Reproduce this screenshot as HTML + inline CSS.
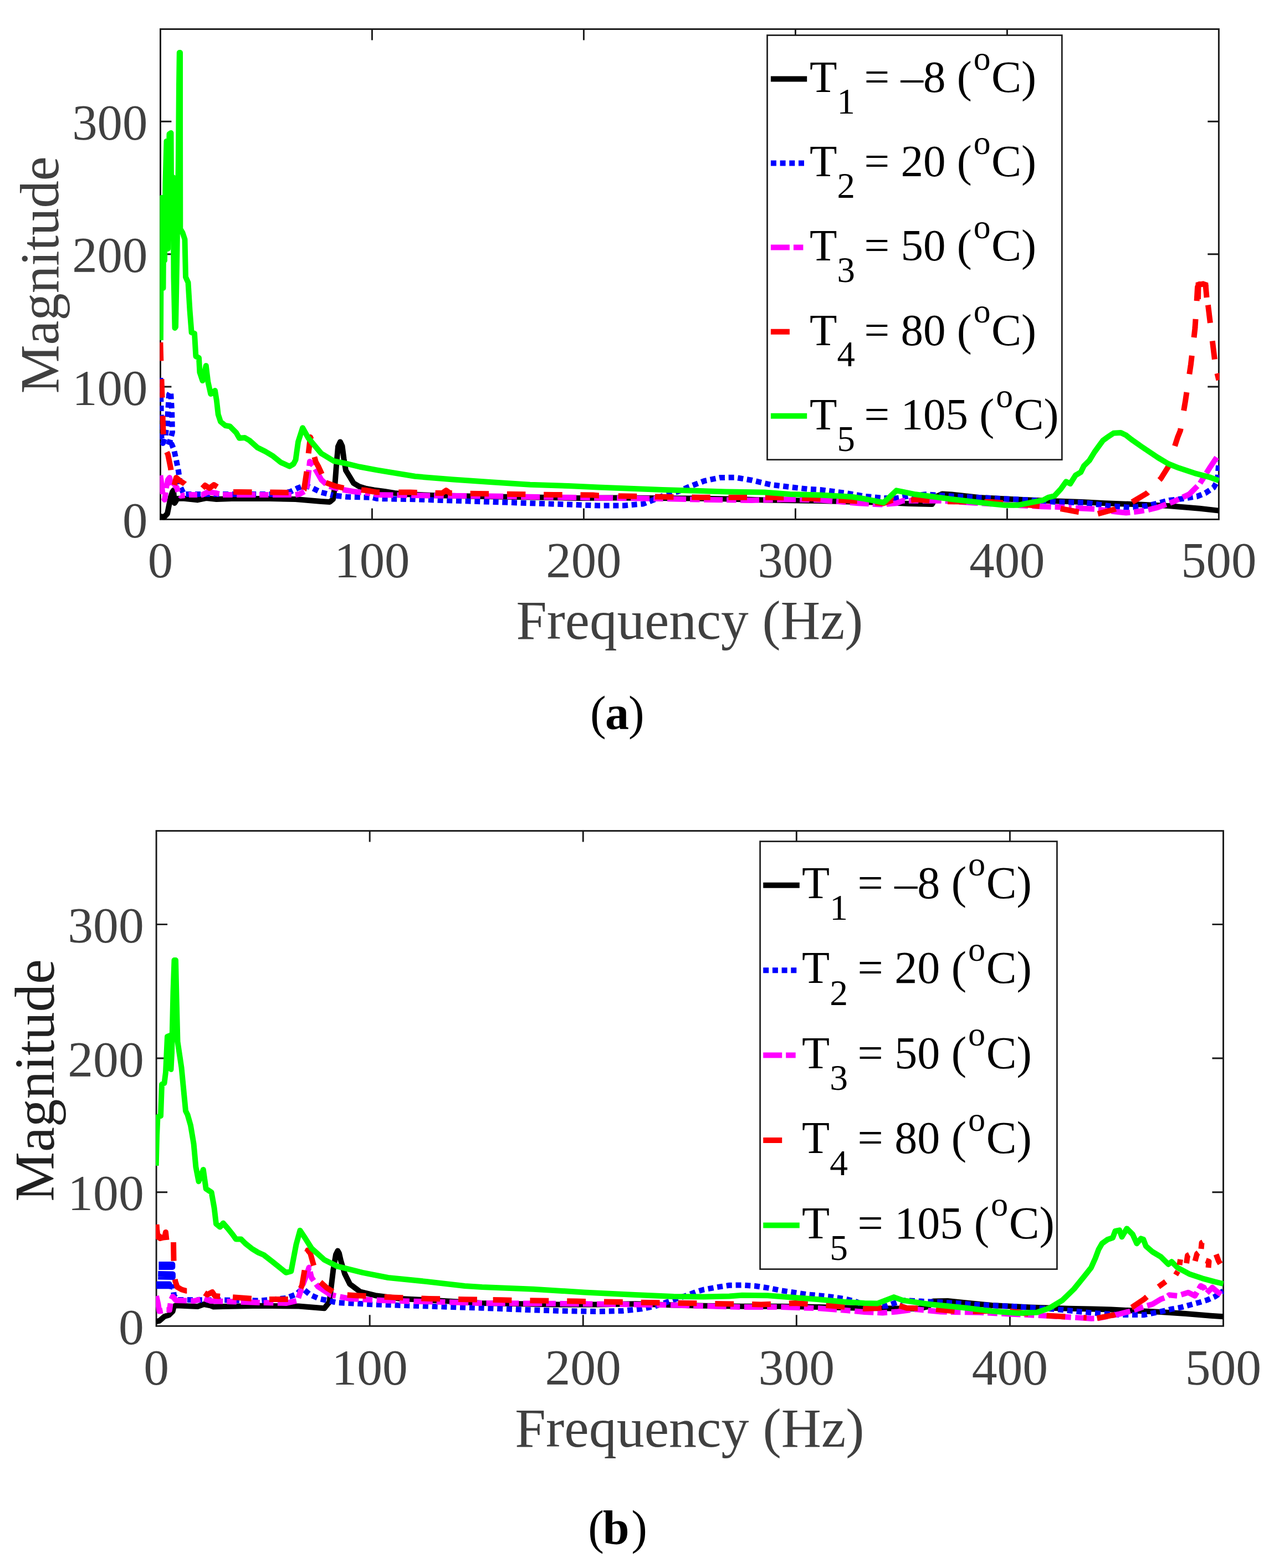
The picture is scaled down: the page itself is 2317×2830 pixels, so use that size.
<!DOCTYPE html><html><head><meta charset="utf-8"><title>Magnitude vs Frequency</title><style>html,body{margin:0;padding:0;background:#fff;}svg{display:block;}</style></head><body>
<svg width="2317" height="2830" viewBox="0 0 2317 2830">
<rect width="2317" height="2830" fill="#ffffff"/>
<path d="M289.4 698.0h20M2199.3 698.0h-20M289.4 458.7h20M2199.3 458.7h-20M289.4 219.3h20M2199.3 219.3h-20M671.4 937.4v-20M671.4 52.5v20M1053.4 937.4v-20M1053.4 52.5v20M1435.4 937.4v-20M1435.4 52.5v20M1817.4 937.4v-20M1817.4 52.5v20" stroke="#181818" stroke-width="2.9" fill="none"/>
<rect x="289.45" y="52.55" width="1909.90" height="884.85" fill="none" stroke="#181818" stroke-width="2.9"/>
<clipPath id="ca"><rect x="288.4" y="51.5" width="1911.9" height="886.9"/></clipPath>
<g clip-path="url(#ca)" fill="none" stroke-width="10" stroke-linejoin="round" stroke-linecap="butt">
<polyline points="289.4,932.0 296.0,933.5 302.0,927.0 305.0,912.0 308.0,897.0 311.0,888.0 313.0,885.0 315.0,908.0 317.0,905.0 320.0,900.0 330.0,899.5 356.0,902.4 372.0,899.0 390.6,901.0 418.0,900.0 487.0,900.0 533.0,901.0 579.5,905.0 595.0,906.0 601.0,901.0 604.0,880.0 607.0,840.0 610.0,806.0 614.0,797.5 617.5,805.0 620.5,828.0 624.0,849.0 632.0,862.0 638.0,872.0 648.0,878.0 661.0,882.0 675.0,884.5 694.0,887.0 712.0,890.0 731.0,892.0 780.0,894.0 846.0,895.5 913.0,896.7 980.0,897.8 1046.0,899.0 1112.0,898.5 1179.0,899.0 1246.0,899.4 1312.7,900.6 1379.5,902.4 1446.4,903.6 1480.0,904.0 1549.0,905.9 1600.0,907.0 1640.0,909.0 1682.0,910.0 1690.0,896.0 1700.0,891.5 1717.0,892.5 1767.0,898.0 1836.0,901.5 1894.0,904.0 1952.0,906.0 1994.0,908.3 2051.0,910.2 2108.0,913.0 2165.0,917.8 2199.4,921.6" stroke="#000000"/>
<polyline points="289.4,682.0 290.5,730.0 291.5,790.0 294.0,800.0 298.0,790.0 302.0,760.0 305.0,712.0 308.0,707.0 310.0,740.0 311.0,780.0 307.0,795.0 303.0,805.0 310.0,802.0 314.0,812.0 318.0,830.0 322.0,850.0 326.0,880.0 332.0,892.0 356.0,892.0 400.0,892.0 450.0,892.0 500.0,892.0 524.0,887.5 538.0,880.6 549.6,876.0 563.4,880.6 579.5,888.6 600.7,893.9" stroke="#0000ff" stroke-dasharray="10 6.68"/>
<polyline points="600.0,893.7 602.6,894.4 625.6,896.7 671.7,897.8 680.0,900.0 749.0,901.3 818.0,903.6 887.4,905.9 956.5,908.2 1025.6,910.5 1080.0,912.6 1126.0,912.4 1160.6,909.4 1179.0,902.4 1199.8,893.2 1222.9,887.5 1241.3,879.4 1271.2,867.9 1298.9,862.1 1326.5,861.7 1356.5,866.7 1391.0,874.8 1425.6,879.0 1460.2,882.9 1480.0,884.0 1526.0,889.8 1560.0,895.7 1595.2,899.0 1617.6,899.2 1641.3,895.0 1670.6,892.3 1721.3,895.7 1790.4,899.2 1859.5,902.6 1905.6,906.0 1960.0,907.5 2000.0,913.0 2040.0,916.0 2070.0,913.0 2090.0,908.0 2110.0,903.0 2135.0,900.0 2160.0,896.0 2175.0,890.0 2190.0,880.0 2197.0,868.0 2199.4,833.0" stroke="#0000ff" stroke-dasharray="10 6.68" stroke-dashoffset="10.0"/>
<polyline points="289.4,858.0 291.0,870.0 294.0,895.0 297.0,902.0 300.0,880.0 303.0,866.0 306.0,862.0 308.0,872.0 311.0,880.0 315.0,876.0 319.0,880.0 322.0,890.0 326.0,895.0 330.7,894.4" stroke="#ff00ff" stroke-dasharray="34 7 17.5 7.5"/>
<polyline points="330.0,894.5 342.0,893.0 355.7,893.0" stroke="#ff00ff" stroke-dasharray="34 7 17.5 7.5" stroke-dashoffset="30.3"/>
<polyline points="355.0,893.0 365.0,893.0 375.0,888.0 390.0,890.0 400.0,893.0 450.0,893.0 480.7,893.0" stroke="#ff00ff" stroke-dasharray="34 7 17.5 7.5" stroke-dashoffset="58.1"/>
<polyline points="480.0,893.0 533.0,893.0 540.0,892.0 553.0,885.0 556.0,860.0 559.0,833.0 565.0,840.0 572.0,852.0 580.0,866.0 592.0,877.0 614.0,883.0 637.0,887.0 660.7,889.7" stroke="#ff00ff" stroke-dasharray="34 7 17.5 7.5" stroke-dashoffset="54.0"/>
<polyline points="660.0,889.6 672.0,891.0 680.0,893.0 730.7,893.8" stroke="#ff00ff" stroke-dasharray="34 7 17.5 7.5" stroke-dashoffset="50.2"/>
<polyline points="730.0,893.8 772.0,894.4 887.0,895.5 956.0,896.7 1025.0,897.8 1080.0,898.5 1172.0,899.7 1287.0,902.0 1356.0,902.9 1425.0,901.3 1480.0,902.4 1549.0,908.2 1590.0,910.5 1618.0,908.2 1629.0,903.8 1698.0,903.8 1790.0,909.5 1880.0,914.2 1908.0,915.0 1930.7,916.4" stroke="#ff00ff" stroke-dasharray="34 7 17.5 7.5" stroke-dashoffset="53.8"/>
<polyline points="1930.0,916.4 1937.0,916.8 1975.0,918.7 1995.7,921.3" stroke="#ff00ff" stroke-dasharray="34 7 17.5 7.5" stroke-dashoffset="55.0"/>
<polyline points="1995.0,921.2 2013.0,923.5 2032.0,925.4 2051.0,923.5 2060.7,922.0" stroke="#ff00ff" stroke-dasharray="34 7 17.5 7.5" stroke-dashoffset="55.5"/>
<polyline points="2060.0,922.1 2070.0,920.6 2089.0,915.9 2117.6,905.4 2125.6,901.6" stroke="#ff00ff" stroke-dasharray="34 7 17.5 7.5" stroke-dashoffset="53.8"/>
<polyline points="2125.0,901.9 2146.0,892.1 2165.0,873.1 2170.4,864.5" stroke="#ff00ff" stroke-dasharray="34 7 17.5 7.5" stroke-dashoffset="55.9"/>
<polyline points="2170.0,865.1 2184.0,842.7 2199.4,819.8" stroke="#ff00ff" stroke-dasharray="34 7 17.5 7.5" stroke-dashoffset="52.9"/>
<polyline points="289.4,618.0 290.5,660.0 292.0,700.0 293.5,750.0 295.0,790.0 298.0,810.0 303.0,820.0 308.0,845.0 311.0,868.0 314.0,878.0 318.0,862.0 325.0,868.0 333.0,873.0 340.0,880.0 350.0,887.0 355.7,886.1" stroke="#ff0000" stroke-dasharray="33.5 32.8"/>
<polyline points="355.0,886.2 362.0,885.0 370.0,876.0 378.0,881.0 386.0,875.0 394.0,880.0 400.6,884.8" stroke="#ff0000" stroke-dasharray="33.5 32.8" stroke-dashoffset="54.1"/>
<polyline points="400.0,884.4 405.0,888.0 430.0,888.0 470.7,888.4" stroke="#ff0000" stroke-dasharray="33.5 32.8" stroke-dashoffset="44.1"/>
<polyline points="470.0,888.4 522.0,889.0 530.7,888.6" stroke="#ff0000" stroke-dasharray="33.5 32.8" stroke-dashoffset="49.0"/>
<polyline points="530.0,888.7 545.0,888.0 548.5,884.0 553.5,851.0 557.0,815.0 560.0,789.0 562.5,795.0 566.0,820.0 570.0,834.0 575.0,843.0 581.0,856.0 582.3,858.8" stroke="#ff0000" stroke-dasharray="33.5 32.8" stroke-dashoffset="46.0"/>
<polyline points="582.0,858.1 588.0,871.0 604.0,877.0 621.0,881.0 640.7,883.0" stroke="#ff0000" stroke-dasharray="33.5 32.8" stroke-dashoffset="51.8"/>
<polyline points="640.0,882.9 660.0,885.0 680.0,888.6 700.7,888.6" stroke="#ff0000" stroke-dasharray="33.5 32.8" stroke-dashoffset="54.3"/>
<polyline points="700.0,888.6 740.0,888.6 798.0,890.0 805.0,885.0 812.0,890.0 863.0,891.0 932.0,892.0 1000.0,893.0 1070.0,893.5 1080.0,894.4 1100.7,894.8" stroke="#ff0000" stroke-dasharray="33.5 32.8" stroke-dashoffset="47.1"/>
<polyline points="1100.0,894.8 1133.0,895.5 1200.0,896.7 1264.0,897.8 1333.0,897.8 1400.0,897.8 1467.0,900.1 1549.0,904.7 1594.6,908.4 1610.7,902.6 1622.0,906.0 1652.0,901.5 1698.0,905.0 1790.0,906.0 1859.5,911.8 1890.7,915.0" stroke="#ff0000" stroke-dasharray="33.5 32.8" stroke-dashoffset="50.6"/>
<polyline points="1890.0,914.9 1905.6,916.5 1946.0,924.0 1960.7,925.8" stroke="#ff0000" stroke-dasharray="33.5 32.8" stroke-dashoffset="42.3"/>
<polyline points="1960.0,925.7 1979.0,928.0 2013.0,918.7 2030.6,911.5" stroke="#ff0000" stroke-dasharray="33.5 32.8" stroke-dashoffset="45.0"/>
<polyline points="2030.0,911.7 2041.6,907.0 2070.0,890.0 2080.5,878.8" stroke="#ff0000" stroke-dasharray="33.5 32.8" stroke-dashoffset="52.1"/>
<polyline points="2080.0,879.4 2094.8,863.6 2108.0,842.7 2115.2,820.1" stroke="#ff0000" stroke-dasharray="33.5 32.8" stroke-dashoffset="48.3"/>
<polyline points="2115.0,820.8 2125.0,789.4 2130.0,777.0 2133.1,758.7" stroke="#ff0000" stroke-dasharray="33.5 32.8" stroke-dashoffset="49.8"/>
<polyline points="2133.0,759.4 2139.0,724.2 2143.1,696.6" stroke="#ff0000" stroke-dasharray="33.5 32.8" stroke-dashoffset="47.8"/>
<polyline points="2143.0,697.3 2148.9,657.7 2151.1,638.8" stroke="#ff0000" stroke-dasharray="33.5 32.8" stroke-dashoffset="43.9"/>
<polyline points="2151.0,639.5 2156.4,592.8 2156.5,590.6" stroke="#ff0000" stroke-dasharray="33.5 32.8" stroke-dashoffset="35.7"/>
<polyline points="2156.5,591.3 2159.5,545.0 2161.0,518.0 2164.0,513.0 2171.0,512.5 2174.6,514.5" stroke="#ff0000" stroke-dasharray="33.5 32.8" stroke-dashoffset="18.0"/>
<polyline points="2174.0,514.2 2175.5,515.0 2177.0,532.0 2180.0,551.0 2182.1,568.2" stroke="#ff0000" stroke-dasharray="33.5 32.8" stroke-dashoffset="28.8"/>
<polyline points="2182.0,567.5 2184.0,584.0 2188.0,617.0 2192.0,650.0 2194.1,661.7" stroke="#ff0000" stroke-dasharray="33.5 32.8" stroke-dashoffset="18.0"/>
<polyline points="2194.0,661.0 2196.0,672.0 2199.4,686.0" stroke="#ff0000" stroke-dasharray="33.5 32.8" stroke-dashoffset="53.2"/>
<polyline points="289.9,614.0 290.6,470.0 291.5,357.0 293.5,357.0 294.5,520.0 295.5,380.0 297.0,470.0 298.5,330.0 300.5,255.0 302.0,257.0 303.0,449.0 304.0,330.0 305.5,242.0 308.5,240.0 309.5,409.0 310.5,330.0 311.5,420.0 312.5,320.0 313.5,500.0 315.5,592.0 317.0,590.0 319.5,450.0 321.8,300.0 323.0,153.0 323.8,95.0 325.0,95.0 325.0,200.0 325.3,413.0 329.5,420.0 333.5,432.0 335.0,500.0 339.5,510.0 342.5,560.0 345.6,600.0 351.0,602.0 353.4,643.0 359.0,646.0 360.4,672.0 365.4,687.0 371.8,660.0 375.3,689.0 380.2,711.0 388.0,705.0 390.9,723.0 393.7,748.0 398.0,761.0 406.4,768.0 414.9,769.5 426.3,781.0 431.9,790.7 441.8,790.0 450.3,795.0 464.5,807.7 478.6,814.8 492.8,823.3 506.9,834.6 522.5,841.7 529.6,837.4 533.5,830.0 538.0,797.6 546.1,772.3 556.5,790.7 579.5,818.3 602.6,832.2 625.6,836.8 648.7,842.5 680.0,848.3 749.0,859.8 818.0,865.6 887.4,870.2 956.5,874.8 1025.6,877.1 1080.0,879.4 1195.2,884.0 1310.4,887.5 1379.5,888.6 1425.6,892.0 1480.0,893.5 1537.6,896.7 1560.0,900.3 1594.6,907.2 1617.6,885.3 1629.0,887.6 1652.0,892.3 1721.3,901.5 1790.4,909.5 1813.5,911.8 1836.5,911.8 1859.5,907.2 1882.6,902.6 1891.4,897.8 1902.8,895.0 1914.2,882.6 1923.7,869.3 1931.3,873.0 1940.8,857.9 1950.3,852.2 1956.0,840.8 1965.6,831.3 1975.0,816.0 1984.6,802.7 1990.3,795.1 1997.9,789.4 2009.3,781.8 2022.6,780.9 2032.1,785.6 2041.6,793.2 2060.6,806.5 2089.1,825.6 2108.1,837.0 2127.1,844.6 2155.7,854.1 2184.2,861.7 2199.4,867.4" stroke="#00ff00"/>
<polyline points="2162,540 2162.5,514 2171,512.5 2175.5,514 2177.5,537" stroke="#ff0000" stroke-linejoin="miter"/>
</g>
<g font-family='"Liberation Serif", "Times New Roman", serif' font-size="90.8" fill="#404040">
<text x="266.4" y="969.9" text-anchor="end">0</text>
<text x="266.4" y="730.5" text-anchor="end">100</text>
<text x="266.4" y="491.2" text-anchor="end">200</text>
<text x="266.4" y="251.8" text-anchor="end">300</text>
<text x="289.4" y="1041.7" text-anchor="middle">0</text>
<text x="671.4" y="1041.7" text-anchor="middle">100</text>
<text x="1053.4" y="1041.7" text-anchor="middle">200</text>
<text x="1435.4" y="1041.7" text-anchor="middle">300</text>
<text x="1817.4" y="1041.7" text-anchor="middle">400</text>
<text x="2199.3" y="1041.7" text-anchor="middle">500</text>
</g>
<text x="1244.5" y="1152.7" font-family='"Liberation Serif", "Times New Roman", serif' font-size="99.3" fill="#404040" text-anchor="middle">Frequency (Hz)</text>
<text transform="translate(104.9,496.3) rotate(-90)" font-family='"Liberation Serif", "Times New Roman", serif' font-size="98.8" fill="#404040" text-anchor="middle">Magnitude</text>
<rect x="1384.5" y="63.6" width="531.8" height="766.1" fill="#ffffff" stroke="#1c1c1c" stroke-width="2.7"/>
<line x1="1390.9" y1="142.4" x2="1456.2" y2="142.4" stroke="#000000" stroke-width="10"/>
<text x="1460.9" y="166.2" font-family='"Liberation Serif", "Times New Roman", serif' font-size="81" fill="#000">T<tspan font-size="64.8" dy="38.9">1</tspan><tspan x="1559.5" dy="-38.9">= –8 (</tspan><tspan font-size="61.6" dy="-40.1" dx="3">o</tspan><tspan dy="40.1" dx="1.5">C)</tspan></text>
<line x1="1390.9" y1="294.5" x2="1456.2" y2="294.5" stroke="#0000ff" stroke-width="10" stroke-dasharray="10 6.7"/>
<text x="1460.9" y="318.3" font-family='"Liberation Serif", "Times New Roman", serif' font-size="81" fill="#000">T<tspan font-size="64.8" dy="38.9">2</tspan><tspan x="1559.5" dy="-38.9">= 20 (</tspan><tspan font-size="61.6" dy="-40.1" dx="3">o</tspan><tspan dy="40.1" dx="1.5">C)</tspan></text>
<line x1="1390.9" y1="446.6" x2="1456.2" y2="446.6" stroke="#ff00ff" stroke-width="10" stroke-dasharray="34 7 17.5 7.5"/>
<text x="1460.9" y="470.4" font-family='"Liberation Serif", "Times New Roman", serif' font-size="81" fill="#000">T<tspan font-size="64.8" dy="38.9">3</tspan><tspan x="1559.5" dy="-38.9">= 50 (</tspan><tspan font-size="61.6" dy="-40.1" dx="3">o</tspan><tspan dy="40.1" dx="1.5">C)</tspan></text>
<line x1="1390.9" y1="598.7" x2="1456.2" y2="598.7" stroke="#ff0000" stroke-width="10" stroke-dasharray="34 33"/>
<text x="1460.9" y="622.5" font-family='"Liberation Serif", "Times New Roman", serif' font-size="81" fill="#000">T<tspan font-size="64.8" dy="38.9">4</tspan><tspan x="1559.5" dy="-38.9">= 80 (</tspan><tspan font-size="61.6" dy="-40.1" dx="3">o</tspan><tspan dy="40.1" dx="1.5">C)</tspan></text>
<line x1="1390.9" y1="750.8" x2="1456.2" y2="750.8" stroke="#00ff00" stroke-width="10"/>
<text x="1460.9" y="774.6" font-family='"Liberation Serif", "Times New Roman", serif' font-size="81" fill="#000">T<tspan font-size="64.8" dy="38.9">5</tspan><tspan x="1559.5" dy="-38.9">= 105 (</tspan><tspan font-size="61.6" dy="-40.1" dx="3">o</tspan><tspan dy="40.1" dx="1.5">C)</tspan></text>
<path d="M282.1 2151.7h20M2207.4 2151.7h-20M282.1 1910.0h20M2207.4 1910.0h-20M282.1 1668.4h20M2207.4 1668.4h-20M667.2 2393.3v-20M667.2 1499.6v20M1052.2 2393.3v-20M1052.2 1499.6v20M1437.3 2393.3v-20M1437.3 1499.6v20M1822.4 2393.3v-20M1822.4 1499.6v20" stroke="#181818" stroke-width="2.9" fill="none"/>
<rect x="282.10" y="1499.60" width="1925.35" height="893.70" fill="none" stroke="#181818" stroke-width="2.9"/>
<clipPath id="cb"><rect x="281.1" y="1498.6" width="1927.3" height="895.7"/></clipPath>
<g clip-path="url(#cb)" fill="none" stroke-width="10" stroke-linejoin="round" stroke-linecap="butt">
<polyline points="282.1,2385.0 287.5,2384.0 296.7,2376.0 304.8,2373.5 311.7,2366.6 314.0,2357.4 317.5,2356.3 345.0,2357.4 356.6,2358.0 368.0,2354.0 379.7,2356.3 385.4,2358.6 402.7,2358.0 470.0,2356.7 539.0,2357.5 585.2,2361.3 594.4,2349.8 601.3,2292.2 606.0,2264.5 609.4,2257.6 612.0,2262.0 615.2,2276.0 622.1,2299.0 631.3,2317.5 649.7,2331.3 677.4,2338.2 723.5,2344.0 792.6,2347.5 870.0,2352.0 939.0,2353.2 1008.2,2354.4 1077.4,2354.4 1146.5,2353.2 1215.6,2355.5 1270.0,2356.7 1339.0,2357.8 1408.2,2357.8 1477.4,2359.0 1560.0,2361.0 1657.0,2362.0 1675.0,2358.0 1684.0,2348.5 1710.0,2348.0 1744.0,2351.5 1790.0,2356.0 1859.5,2359.5 1928.7,2361.8 1969.5,2362.4 2004.9,2363.5 2049.9,2365.7 2094.8,2368.0 2139.7,2371.0 2184.6,2374.7 2207.5,2376.2" stroke="#000000"/>
<polyline points="305.0,2321.0 312.0,2323.0 314.0,2338.0 320.0,2346.0 400.0,2346.5 470.0,2347.5 516.1,2342.9 534.5,2336.0 546.0,2325.6 559.9,2337.0 576.0,2344.0 592.1,2347.5 608.2,2351.0 677.4,2354.4 746.5,2356.7 815.6,2359.0 870.0,2360.7 939.0,2363.6 1008.2,2365.9 1077.4,2367.0 1123.5,2365.9 1158.0,2362.4 1181.0,2357.8 1211.0,2347.5 1238.7,2338.2 1257.0,2331.3 1270.0,2327.5 1293.0,2323.3 1316.0,2319.8 1339.0,2319.4 1362.2,2321.0 1385.2,2324.4 1408.2,2329.0 1431.3,2332.5 1454.3,2336.0 1477.4,2338.2 1500.4,2340.6 1523.5,2344.0 1546.5,2349.8 1560.0,2357.0 1581.0,2358.0 1599.5,2357.0 1629.0,2347.0 1661.7,2348.6 1698.0,2350.3 1767.4,2355.0 1836.5,2358.4 1905.6,2363.0 1969.5,2369.4 2015.6,2372.8 2064.8,2373.2 2094.8,2367.2 2114.3,2362.7 2130.7,2359.7 2147.2,2355.2 2163.7,2350.7 2178.7,2346.2 2192.1,2340.3 2207.5,2330.0" stroke="#0000ff" stroke-dasharray="10 6.8"/>
<polyline points="282.1,2339.0 285.2,2352.8 287.5,2366.6 300.2,2364.3 306.0,2364.3 308.3,2347.0 311.7,2340.0 317.5,2347.0 350.0,2348.0 368.0,2343.6 380.0,2348.0 470.0,2351.0 516.1,2352.0 536.8,2347.5 546.0,2319.8 553.0,2301.4 557.6,2287.6 562.2,2306.0 573.7,2322.1 596.7,2337.0 600.7,2337.8" stroke="#ff00ff" stroke-dasharray="34.3 7 17.6 7.6"/>
<polyline points="600.0,2337.7 631.3,2344.0 670.7,2346.0" stroke="#ff00ff" stroke-dasharray="34.3 7 17.6 7.6" stroke-dashoffset="52.7"/>
<polyline points="670.0,2346.0 700.4,2347.5 735.7,2348.4" stroke="#ff00ff" stroke-dasharray="34.3 7 17.6 7.6" stroke-dashoffset="56.8"/>
<polyline points="735.0,2348.4 792.6,2349.8 800.7,2350.0" stroke="#ff00ff" stroke-dasharray="34.3 7 17.6 7.6" stroke-dashoffset="55.0"/>
<polyline points="800.0,2350.0 870.0,2352.0 962.2,2352.5 1054.3,2353.2 1146.5,2354.4 1215.6,2355.5 1270.0,2357.2 1339.0,2359.0 1408.2,2359.0 1477.4,2361.3 1523.5,2364.7 1560.0,2368.0 1592.6,2369.4 1617.6,2367.6 1652.2,2363.0 1698.2,2367.6 1767.4,2368.8 1836.5,2372.2 1905.6,2375.7 1969.5,2379.7 1982.5,2379.2 2019.9,2371.7 2042.4,2365.7 2064.8,2358.2 2079.8,2353.7 2094.8,2344.7 2103.8,2341.7 2109.8,2337.3 2124.7,2338.8 2144.2,2332.8 2156.2,2338.8 2166.7,2320.8 2172.7,2323.8 2177.2,2334.3 2187.6,2323.8 2196.6,2331.3 2207.5,2338.8" stroke="#ff00ff" stroke-dasharray="34.3 7 17.6 7.6" stroke-dashoffset="55.5"/>
<polyline points="282.1,2211.0 284.5,2232.0 289.0,2235.0 296.0,2225.0 299.0,2222.0 300.5,2236.0 305.0,2238.0 306.7,2238.6" stroke="#ff0000" stroke-dasharray="33.8 33"/>
<polyline points="306.0,2238.4 313.0,2241.0 313.5,2274.0 315.0,2300.0 316.3,2312.5 319.8,2322.9 327.8,2327.5 335.9,2329.8 363.6,2329.8 373.9,2336.7 383.1,2332.0 387.8,2339.0 400.7,2339.9" stroke="#ff0000" stroke-dasharray="33.8 33" stroke-dashoffset="58.3"/>
<polyline points="400.0,2339.9 420.0,2341.3 470.7,2345.1" stroke="#ff0000" stroke-dasharray="33.8 33" stroke-dashoffset="46.7"/>
<polyline points="470.0,2345.0 520.0,2345.0 536.0,2340.0 545.0,2320.0 550.0,2290.0 553.0,2262.0 555.3,2256.5 560.0,2262.0 565.0,2280.0 573.7,2310.0 589.8,2324.4 600.6,2331.2" stroke="#ff0000" stroke-dasharray="33.8 33" stroke-dashoffset="50.8"/>
<polyline points="600.0,2330.8 608.2,2336.0 642.8,2338.2 680.7,2340.1" stroke="#ff0000" stroke-dasharray="33.8 33" stroke-dashoffset="38.5"/>
<polyline points="680.0,2340.1 711.9,2341.7 774.1,2344.0 838.7,2345.2 870.7,2345.7" stroke="#ff0000" stroke-dasharray="33.8 33" stroke-dashoffset="53.2"/>
<polyline points="870.0,2345.7 904.6,2346.3 973.7,2347.5 1040.5,2348.6 1107.3,2349.8 1174.1,2351.0 1241.0,2352.0 1304.6,2353.2 1373.7,2354.4 1435.9,2352.0 1500.4,2356.7 1560.0,2362.0 1600.0,2360.0 1617.6,2355.0 1636.0,2360.7 1675.2,2361.8 1732.8,2367.6 1813.5,2365.3 1871.0,2373.4 1928.7,2376.8 1960.7,2378.3" stroke="#ff0000" stroke-dasharray="33.8 33" stroke-dashoffset="47.2"/>
<polyline points="1960.0,2378.3 1979.5,2379.2 2011.0,2373.2 2030.6,2364.8" stroke="#ff0000" stroke-dasharray="33.8 33" stroke-dashoffset="47.2"/>
<polyline points="2030.0,2365.0 2042.4,2359.7 2064.8,2344.7 2070.0,2340.0" stroke="#ff0000" stroke-dasharray="33.8 33" stroke-dashoffset="53.8"/>
<polyline points="281.7,2104.0 283.0,2050.0 284.5,2016.0 290.0,2014.0 292.0,1957.0 296.5,1955.0 299.0,1935.0 302.0,1871.0 307.0,1869.0 308.5,1930.0 310.0,1900.0 312.5,1790.0 314.5,1733.0 317.0,1733.0 318.5,1800.0 320.5,1880.0 327.5,1927.0 335.0,2005.0 338.5,2012.0 343.9,2030.8 349.6,2064.7 353.4,2106.2 358.5,2132.3 366.8,2111.0 371.7,2145.5 381.6,2152.0 386.6,2180.0 390.0,2208.8 397.0,2214.6 402.7,2207.6 410.8,2216.9 420.0,2228.4 425.8,2236.5 435.0,2236.5 443.0,2244.5 454.6,2253.7 466.0,2260.6 476.0,2265.0 493.0,2278.3 516.1,2296.8 525.3,2294.5 534.5,2246.0 541.4,2220.7 550.6,2234.6 562.2,2253.0 585.2,2273.7 608.2,2285.3 654.3,2296.8 700.4,2306.0 769.5,2312.9 838.7,2321.0 870.0,2323.0 962.2,2326.7 1054.3,2332.5 1146.5,2337.0 1215.6,2340.0 1270.0,2340.6 1316.0,2339.4 1339.0,2337.8 1385.2,2338.2 1431.3,2341.7 1477.4,2345.2 1523.5,2349.8 1560.0,2352.0 1583.0,2352.6 1613.0,2341.1 1629.0,2346.9 1675.2,2353.8 1744.3,2360.7 1790.4,2366.5 1836.5,2370.0 1871.0,2368.8 1894.0,2360.7 1917.0,2346.9 1938.0,2326.5 1959.0,2300.5 1969.0,2287.8 1976.5,2271.0 1982.5,2254.9 1988.5,2244.4 1999.0,2236.9 2008.0,2233.9 2012.4,2221.9 2020.0,2220.4 2024.4,2232.4 2033.4,2217.4 2043.9,2227.9 2051.4,2244.4 2058.8,2235.4 2063.3,2236.9 2067.8,2248.9 2079.8,2259.4 2094.8,2268.4 2108.3,2281.8 2114.3,2277.3 2124.7,2287.8 2147.2,2299.8 2169.7,2307.3 2192.1,2313.3 2207.5,2317.0" stroke="#00ff00"/>
<polyline points="286.4,2282 311.3,2282 311.3,2287 286.4,2287" stroke="#0000ff"/>
<polyline points="285.2,2299 311.9,2299.5 311.9,2305 285.2,2304.5" stroke="#0000ff"/>
<polyline points="282,2317.5 305.6,2317.5 305.6,2321.3 282,2321.3" stroke="#0000ff"/>
<polyline points="282.5,2210 284,2232 290,2234.5 297,2233 299,2224 300.5,2238" stroke="#ff0000"/>
<polyline points="2090.5,2322.5 2103.5,2313" stroke="#ff0000"/>
<polyline points="2121.5,2301 2125.5,2294.5" stroke="#ff0000"/>
<polyline points="2128.5,2283 2130,2273" stroke="#ff0000"/>
<polyline points="2141,2280 2143,2266 2146,2264.5" stroke="#ff0000"/>
<polyline points="2156.5,2276 2160,2263 2162.5,2261" stroke="#ff0000"/>
<polyline points="2167.5,2254 2168.5,2243 2170.5,2242" stroke="#ff0000"/>
<polyline points="2176,2275 2181.5,2277 2180.5,2288" stroke="#ff0000"/>
<polyline points="2194.5,2264 2199,2276 2202,2281" stroke="#ff0000"/>
</g>
<g font-family='"Liberation Serif", "Times New Roman", serif' font-size="91.6" fill="#404040">
<text x="259.7" y="2425.9" text-anchor="end">0</text>
<text x="259.7" y="2184.3" text-anchor="end">100</text>
<text x="259.7" y="1942.6" text-anchor="end">200</text>
<text x="259.7" y="1701.0" text-anchor="end">300</text>
<text x="282.1" y="2499.1" text-anchor="middle">0</text>
<text x="667.2" y="2499.1" text-anchor="middle">100</text>
<text x="1052.2" y="2499.1" text-anchor="middle">200</text>
<text x="1437.3" y="2499.1" text-anchor="middle">300</text>
<text x="1822.4" y="2499.1" text-anchor="middle">400</text>
<text x="2207.4" y="2499.1" text-anchor="middle">500</text>
</g>
<text x="1244.5" y="2610.7" font-family='"Liberation Serif", "Times New Roman", serif' font-size="100" fill="#404040" text-anchor="middle">Frequency (Hz)</text>
<text transform="translate(96.6,1949.9) rotate(-90)" font-family='"Liberation Serif", "Times New Roman", serif' font-size="101" fill="#212121" text-anchor="middle">Magnitude</text>
<rect x="1371.6" y="1518.6" width="535.8" height="772.0" fill="#ffffff" stroke="#1c1c1c" stroke-width="2.7"/>
<line x1="1377.2" y1="1597.8" x2="1442.8" y2="1597.8" stroke="#000000" stroke-width="10"/>
<text x="1447.1" y="1621.0" font-family='"Liberation Serif", "Times New Roman", serif' font-size="82" fill="#000">T<tspan font-size="65.6" dy="39.4">1</tspan><tspan x="1547.5" dy="-39.4">= –8 (</tspan><tspan font-size="62.3" dy="-40.6" dx="3">o</tspan><tspan dy="40.6" dx="1.5">C)</tspan></text>
<line x1="1377.2" y1="1751.2" x2="1442.8" y2="1751.2" stroke="#0000ff" stroke-width="10" stroke-dasharray="10 6.7"/>
<text x="1447.1" y="1774.4" font-family='"Liberation Serif", "Times New Roman", serif' font-size="82" fill="#000">T<tspan font-size="65.6" dy="39.4">2</tspan><tspan x="1547.5" dy="-39.4">= 20 (</tspan><tspan font-size="62.3" dy="-40.6" dx="3">o</tspan><tspan dy="40.6" dx="1.5">C)</tspan></text>
<line x1="1377.2" y1="1904.6" x2="1442.8" y2="1904.6" stroke="#ff00ff" stroke-width="10" stroke-dasharray="34 7 17.5 7.5"/>
<text x="1447.1" y="1927.8" font-family='"Liberation Serif", "Times New Roman", serif' font-size="82" fill="#000">T<tspan font-size="65.6" dy="39.4">3</tspan><tspan x="1547.5" dy="-39.4">= 50 (</tspan><tspan font-size="62.3" dy="-40.6" dx="3">o</tspan><tspan dy="40.6" dx="1.5">C)</tspan></text>
<line x1="1377.2" y1="2058.0" x2="1442.8" y2="2058.0" stroke="#ff0000" stroke-width="10" stroke-dasharray="34 33"/>
<text x="1447.1" y="2081.2" font-family='"Liberation Serif", "Times New Roman", serif' font-size="82" fill="#000">T<tspan font-size="65.6" dy="39.4">4</tspan><tspan x="1547.5" dy="-39.4">= 80 (</tspan><tspan font-size="62.3" dy="-40.6" dx="3">o</tspan><tspan dy="40.6" dx="1.5">C)</tspan></text>
<line x1="1377.2" y1="2211.4" x2="1442.8" y2="2211.4" stroke="#00ff00" stroke-width="10"/>
<text x="1447.1" y="2234.6" font-family='"Liberation Serif", "Times New Roman", serif' font-size="82" fill="#000">T<tspan font-size="65.6" dy="39.4">5</tspan><tspan x="1547.5" dy="-39.4">= 105 (</tspan><tspan font-size="62.3" dy="-40.6" dx="3">o</tspan><tspan dy="40.6" dx="1.5">C)</tspan></text>
<text y="1315.7" font-family='"Liberation Serif", "Times New Roman", serif' font-size="86" fill="#000"><tspan x="1064.9">(</tspan><tspan x="1092.1" font-weight="bold">a</tspan><tspan x="1134.1">)</tspan></text>
<text y="2786.4" font-family='"Liberation Serif", "Times New Roman", serif' font-size="86" fill="#000"><tspan x="1061.2">(</tspan><tspan x="1087.8" font-weight="bold">b</tspan><tspan x="1139.3">)</tspan></text>
</svg></body></html>
